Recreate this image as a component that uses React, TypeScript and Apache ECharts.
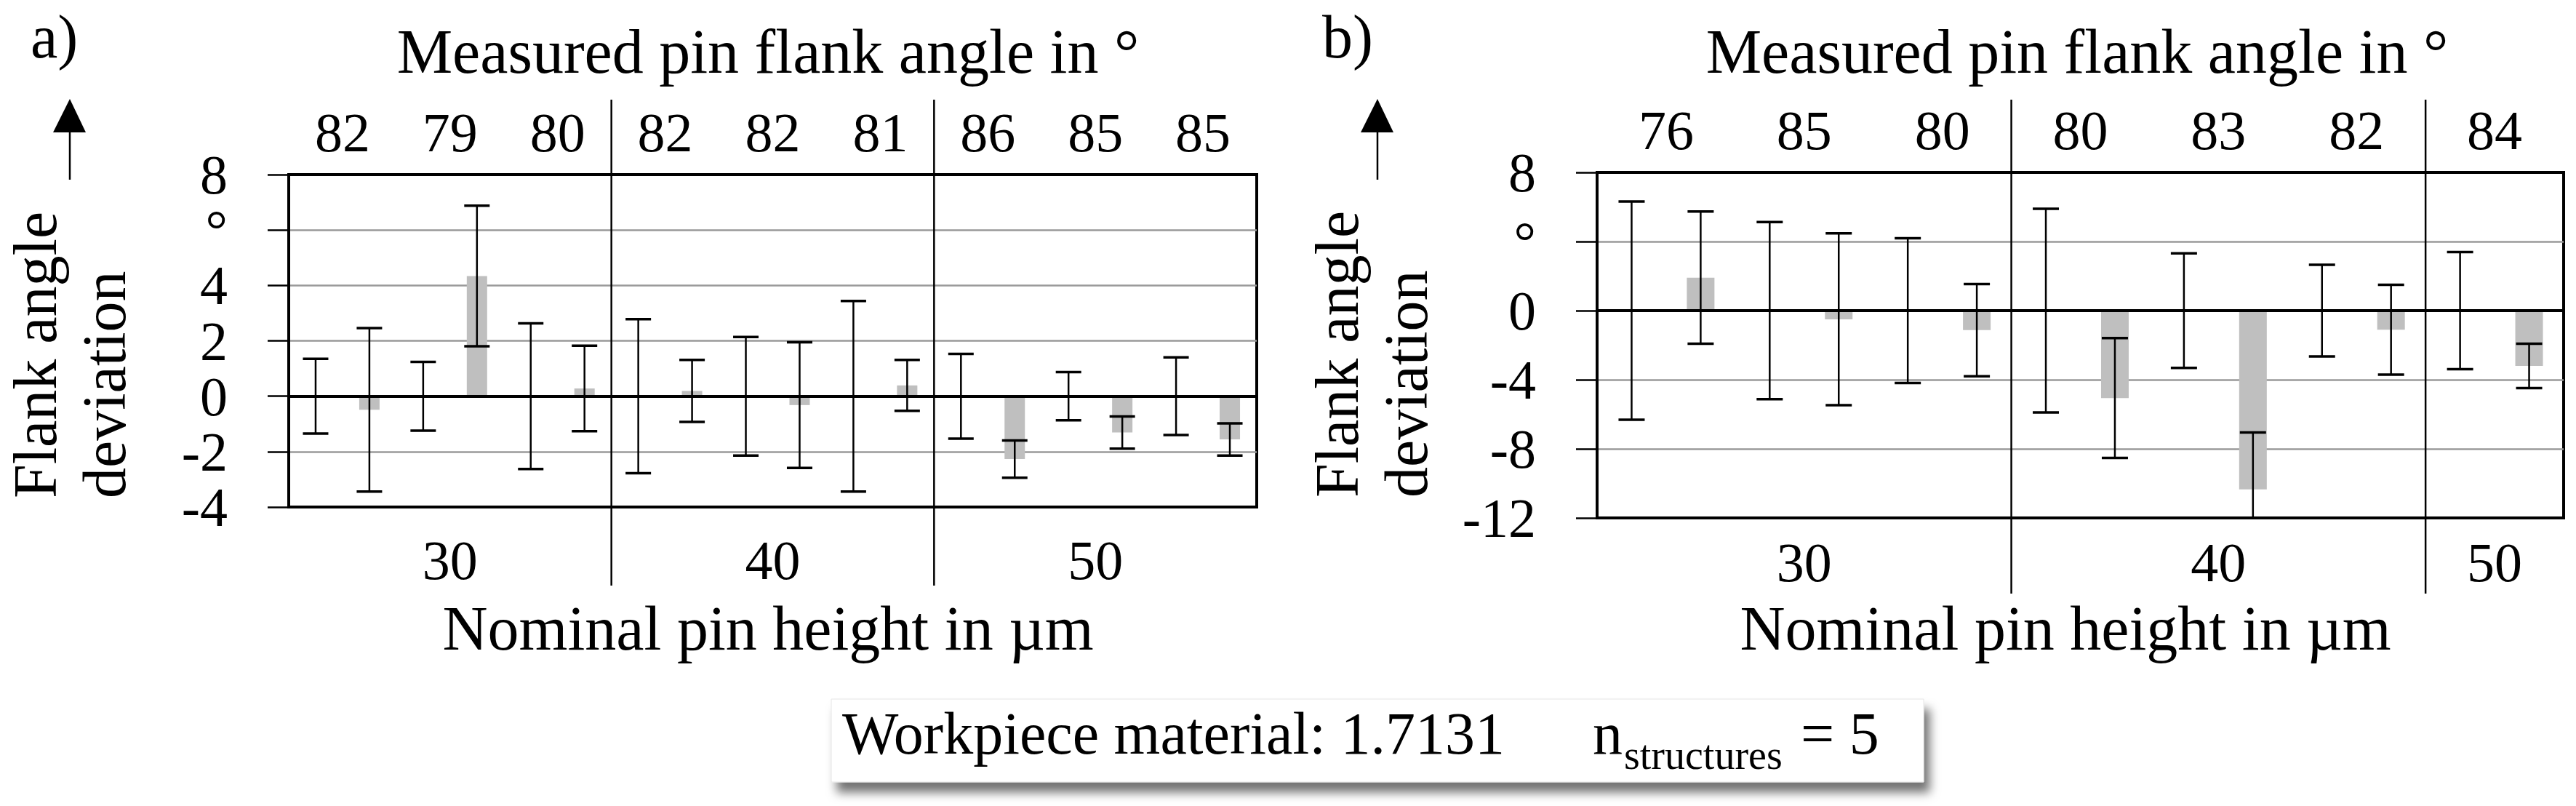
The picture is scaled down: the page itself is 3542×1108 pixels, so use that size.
import React, { useEffect, useRef } from "react";
import * as echarts from "echarts";

const FONT = '"Liberation Serif", "Times New Roman", serif';

// ---------- Panel a ----------
const heightGroupsA = ["30", "40", "50"];
const groupSizesA = [3, 3, 3]; // number of measured angles per nominal height
const anglesA = ["82", "79", "80", "82", "82", "81", "86", "85", "85"];
const refStdA = [1.35, 1.24, 2.63, 2.78, 2.14, 3.44, 1.53, 0.87, 1.4];
const devMeanA = [-0.49, 4.34, 0.28, 0.19, -0.32, 0.39, -2.27, -1.31, -1.56];
const devStdA = [2.95, 2.54, 1.54, 1.12, 2.27, 0.92, 0.67, 0.58, 0.58];
const yMinA = -4;
const yMaxA = 8;
const yStepA = 2;
const unitTickA = 6;

// ---------- Panel b ----------
const heightGroupsB = ["30", "40", "50"];
const groupSizesB = [3, 3, 1];
const anglesB = ["76", "85", "80", "80", "83", "82", "84"];
const refStdB = [6.32, 5.13, 4.19, 5.89, 3.32, 2.65, 3.39];
const devMeanB = [1.91, -0.5, -1.13, -5.06, -10.35, -1.1, -3.2];
const devStdB = [3.83, 4.97, 2.67, 3.47, 3.3, 2.6, 1.28];
const yMinB = -12;
const yMaxB = 8;
const yStepB = 4;
const unitTickB = 4;

const textStyle = (text: string, size: number, align = "center", vAlign = "middle", extra: any = {}) => ({
  text,
  fontSize: size,
  fontFamily: FONT,
  fill: "#000",
  align,
  verticalAlign: vAlign,
  textAlign: align,
  textVerticalAlign: vAlign,
  ...extra,
});

function buildSlots(angles: string[], refStd: number[], devMean: number[], devStd: number[]) {
  const cats: string[] = [];
  const bars: any[] = [];
  const errs: number[][] = [];
  angles.forEach((a, i) => {
    cats.push(`${i}-${a}-ref`);
    bars.push("-");
    errs.push([2 * i, -refStd[i], refStd[i]]);
    cats.push(`${i}-${a}-dev`);
    bars.push(devMean[i]);
    errs.push([2 * i + 1, devMean[i] - devStd[i], devMean[i] + devStd[i]]);
  });
  return { cats, bars, errs };
}

function groupRanges(groupSizes: number[]) {
  const ranges: number[][] = [];
  const bounds: number[][] = [];
  let s = 0;
  groupSizes.forEach((n, i) => {
    ranges.push([s, s + 2 * n - 1]);
    s += 2 * n;
    if (i < groupSizes.length - 1) bounds.push([s, 0]);
  });
  return { ranges, bounds };
}

function panel(p: any) {
  const { cats, bars, errs } = buildSlots(p.angles, p.refStd, p.devMean, p.devStd);
  const { ranges, bounds } = groupRanges(p.groupSizes);
  const xb = p.index * 2;
  const xt = p.index * 2 + 1;
  const yi = p.index;

  const xAxes = [
    {
      gridIndex: p.index,
      type: "category",
      data: cats,
      position: "bottom",
      z: 5,
      axisLine: { show: true, onZero: true, lineStyle: { color: "#000", width: 4 } },
      axisTick: { show: false },
      axisLabel: { show: false },
      splitLine: { show: false },
    },
    {
      gridIndex: p.index,
      type: "category",
      data: p.angles,
      position: "top",
      axisLine: { show: false },
      axisTick: { show: false },
      splitLine: { show: false },
      axisLabel: {
        show: true,
        interval: 0,
        margin: 20,
        fontSize: 76,
        lineHeight: 76,
        fontFamily: FONT,
        color: "#000",
      },
    },
  ];

  const yAxis = {
    gridIndex: p.index,
    type: "value",
    min: p.yMin,
    max: p.yMax,
    interval: p.yStep,
    axisLine: { show: true, lineStyle: { color: "#000", width: 4 } },
    axisTick: { show: true, inside: false, length: 29, lineStyle: { color: "#000", width: 2.5 } },
    axisLabel: {
      margin: 84,
      fontSize: 76,
      fontFamily: FONT,
      color: "#000",
      formatter: (v: number) => (v === p.unitTick ? "°" : String(v)),
    },
    splitLine: {
      show: true,
      showMinLine: false,
      showMaxLine: false,
      lineStyle: { color: "#9a9a9a", width: 2.5 },
    },
  };

  const capW = p.capW;
  const series = [
    {
      type: "bar",
      xAxisIndex: xb,
      yAxisIndex: yi,
      data: bars,
      barWidth: p.barWidth,
      itemStyle: { color: "#bfbfbf" },
      z: 2,
    },
    {
      type: "custom",
      xAxisIndex: xb,
      yAxisIndex: yi,
      clip: true,
      z: 3,
      encode: { x: 0, y: [1, 2] },
      data: errs,
      renderItem: (params: any, api: any) => {
        const x = api.value(0);
        const lo = api.coord([x, api.value(1)]);
        const hi = api.coord([x, api.value(2)]);
        const h = capW / 2;
        return {
          type: "group",
          children: [
            { type: "line", shape: { x1: lo[0], y1: lo[1], x2: hi[0], y2: hi[1] }, style: { stroke: "#000", lineWidth: 2.5 } },
            { type: "line", shape: { x1: hi[0] - h, y1: hi[1], x2: hi[0] + h, y2: hi[1] }, style: { stroke: "#000", lineWidth: 3.5 } },
            { type: "line", shape: { x1: lo[0] - h, y1: lo[1], x2: lo[0] + h, y2: lo[1] }, style: { stroke: "#000", lineWidth: 3.5 } },
          ],
        };
      },
    },
    {
      type: "custom",
      xAxisIndex: xb,
      yAxisIndex: yi,
      clip: false,
      z: 4,
      encode: { x: 0, y: 1 },
      data: bounds,
      renderItem: (params: any, api: any) => {
        const b = api.value(0);
        const x = (api.coord([b - 1, 0])[0] + api.coord([b, 0])[0]) / 2;
        const cs = params.coordSys;
        return {
          type: "line",
          shape: { x1: x, y1: cs.y - p.sepAbove, x2: x, y2: cs.y + cs.height + p.sepBelow },
          style: { stroke: "#000", lineWidth: 2.5 },
        };
      },
    },
    {
      type: "custom",
      xAxisIndex: xb,
      yAxisIndex: yi,
      clip: false,
      z: 4,
      encode: { x: [0, 1] },
      data: ranges,
      renderItem: (params: any, api: any) => {
        const x = (api.coord([api.value(0), 0])[0] + api.coord([api.value(1), 0])[0]) / 2;
        const cs = params.coordSys;
        return {
          type: "text",
          x,
          y: cs.y + cs.height + p.groupLabelOffset,
          style: textStyle(p.heightGroups[params.dataIndex], 76),
        };
      },
    },
  ];

  return { xAxes, yAxis, series };
}

function buildOption() {
  const A = panel({
    index: 0,
    angles: anglesA,
    refStd: refStdA,
    devMean: devMeanA,
    devStd: devStdA,
    groupSizes: groupSizesA,
    heightGroups: heightGroupsA,
    yMin: yMinA,
    yMax: yMaxA,
    yStep: yStepA,
    unitTick: unitTickA,
    barWidth: 28,
    capW: 35,
    sepAbove: 103,
    sepBelow: 108,
    groupLabelOffset: 73,
  });
  const B = panel({
    index: 1,
    angles: anglesB,
    refStd: refStdB,
    devMean: devMeanB,
    devStd: devStdB,
    groupSizes: groupSizesB,
    heightGroups: heightGroupsB,
    yMin: yMinB,
    yMax: yMaxB,
    yStep: yStepB,
    unitTick: unitTickB,
    barWidth: 38,
    capW: 36,
    sepAbove: 100,
    sepBelow: 104,
    groupLabelOffset: 61,
  });

  const arrow = (x: number) => ({
    type: "group",
    children: [
      { type: "line", shape: { x1: x, y1: 247, x2: x, y2: 178 }, style: { stroke: "#000", lineWidth: 2.5 } },
      { type: "polygon", shape: { points: [[x - 23, 182], [x + 22, 182], [x, 136]] }, style: { fill: "#000" } },
    ],
  });

  const graphic = [
    { type: "text", x: 42, y: 50, style: textStyle("a)", 84, "left") },
    { type: "text", x: 1818, y: 50, style: textStyle("b)", 84, "left") },
    { type: "text", x: 1056, y: 71, style: textStyle("Measured pin flank angle in °", 86) },
    { type: "text", x: 2856, y: 71, style: textStyle("Measured pin flank angle in °", 86) },
    { type: "text", x: 1056, y: 864, style: textStyle("Nominal pin height in µm", 86) },
    { type: "text", x: 2840, y: 864, style: textStyle("Nominal pin height in µm", 86) },
    {
      type: "text",
      x: 1,
      y: 685,
      rotation: Math.PI / 2,
      style: textStyle("Flank angle\ndeviation", 84, "left", "top", { lineHeight: 95 }),
    },
    {
      type: "text",
      x: 1791,
      y: 684,
      rotation: Math.PI / 2,
      style: textStyle("Flank angle\ndeviation", 84, "left", "top", { lineHeight: 95 }),
    },
    arrow(96),
    arrow(1894),
    {
      type: "rect",
      shape: { x: 1143, y: 961, width: 1502, height: 114 },
      style: {
        fill: "#fff",
        stroke: "#e6e6e6",
        lineWidth: 1,
        shadowBlur: 14,
        shadowOffsetX: 8,
        shadowOffsetY: 14,
        shadowColor: "rgba(0,0,0,0.55)",
      },
    },
    { type: "text", x: 1158, y: 1008, style: textStyle("Workpiece material: 1.7131", 82, "left") },
    { type: "text", x: 2190, y: 1008, style: textStyle("n", 82, "left") },
    { type: "text", x: 2233, y: 1038, style: textStyle("structures", 56, "left") },
    { type: "text", x: 2476, y: 1008, style: textStyle("= 5", 82, "left") },
  ];

  return {
    animation: false,
    backgroundColor: "#fff",
    grid: [
      { left: 397, top: 240, width: 1331, height: 457, show: true, borderColor: "#000", borderWidth: 4, backgroundColor: "transparent" },
      { left: 2196, top: 237, width: 1329, height: 475, show: true, borderColor: "#000", borderWidth: 4, backgroundColor: "transparent" },
    ],
    xAxis: [...A.xAxes, ...B.xAxes],
    yAxis: [A.yAxis, B.yAxis],
    series: [...A.series, ...B.series],
    graphic: { elements: graphic },
  };
}

export default function App() {
  const ref = useRef<HTMLDivElement>(null);
  useEffect(() => {
    const el = ref.current;
    if (!el) return;
    const chart = echarts.init(el, null, { renderer: "svg" });
    chart.setOption(buildOption() as any);
    return () => chart.dispose();
  }, []);
  return (
    <div
      ref={ref}
      style={{ position: "absolute", left: 0, top: 0, width: 3542, height: 1108, background: "#fff" }}
    />
  );
}
